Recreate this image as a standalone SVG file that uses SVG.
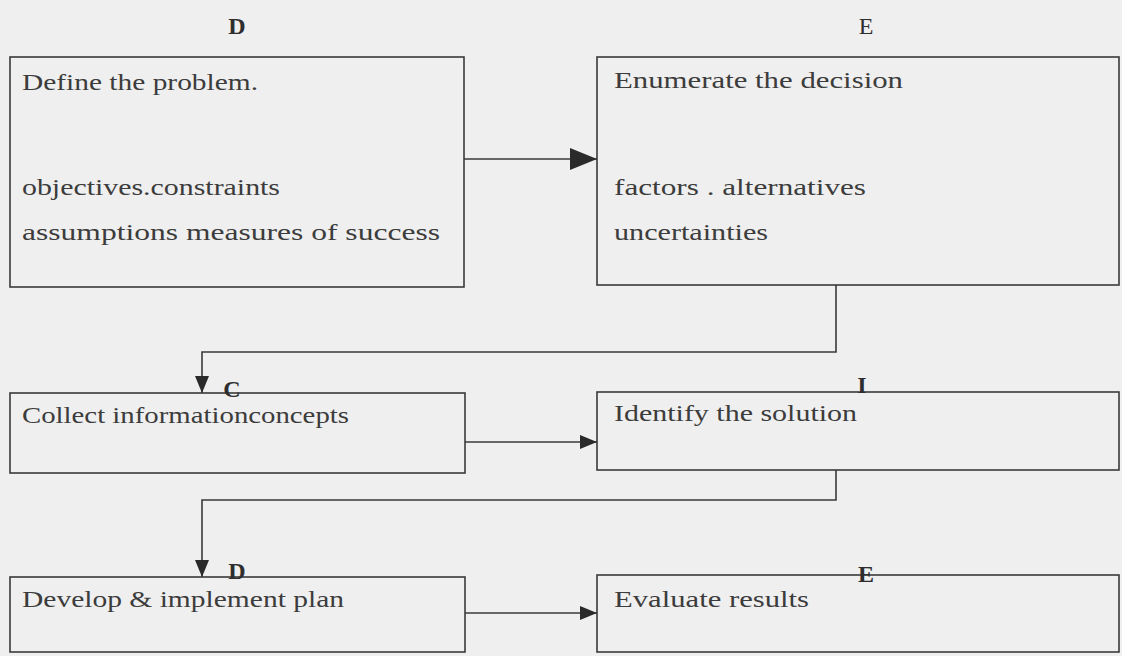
<svg xmlns="http://www.w3.org/2000/svg" width="1122" height="656" viewBox="0 0 1122 656">
<style>
.box{fill:none;stroke:#3a3a3a;stroke-width:1.6}
.t{font-family:"Liberation Serif","Times New Roman",serif;font-size:24px;fill:#3c3c3c}
.lbl{font-family:"Liberation Serif","Times New Roman",serif;font-size:24px;font-weight:bold;fill:#2e2e2e;text-anchor:middle}
.c{fill:none;stroke:#3a3a3a;stroke-width:1.6}
</style>
<defs>
<marker id="big" markerUnits="userSpaceOnUse" markerWidth="28" markerHeight="22" refX="27" refY="11" orient="auto"><path d="M0,0 L27,11 L0,22 z" fill="#2a2a2a"/></marker>
<marker id="sm" markerUnits="userSpaceOnUse" markerWidth="18" markerHeight="14" refX="17" refY="7" orient="auto"><path d="M0,0 L17,7 L0,14 z" fill="#2a2a2a"/></marker>
</defs>
<rect width="1122" height="656" fill="#efefef"/>
<g id="n1">
<text class="lbl" x="237" y="34">D</text>
<rect class="box" x="10" y="57" width="454" height="230"/>
<text class="t" x="22" y="90" textLength="236" lengthAdjust="spacingAndGlyphs">Define the problem.</text>
<text class="t" x="22" y="195" textLength="258" lengthAdjust="spacingAndGlyphs">objectives.constraints</text>
<text class="t" x="22" y="240" textLength="418" lengthAdjust="spacingAndGlyphs">assumptions measures of success</text>
</g>
<g id="n2">
<text class="lbl" x="866" y="34" style="font-weight:normal">E</text>
<rect class="box" x="597" y="57" width="522" height="228"/>
<text class="t" x="614" y="88" textLength="289" lengthAdjust="spacingAndGlyphs">Enumerate the decision</text>
<text class="t" x="614" y="195" textLength="252" lengthAdjust="spacingAndGlyphs">factors . alternatives</text>
<text class="t" x="614" y="240" textLength="154" lengthAdjust="spacingAndGlyphs">uncertainties</text>
</g>
<g id="n3">
<rect class="box" x="10" y="393" width="455" height="80"/>
<text class="lbl" x="232" y="397">C</text>
<text class="t" x="22" y="423" textLength="327" lengthAdjust="spacingAndGlyphs">Collect informationconcepts</text>
</g>
<g id="n4">
<rect class="box" x="597" y="392" width="522" height="78"/>
<text class="lbl" x="862" y="393">I</text>
<text class="t" x="614" y="421" textLength="243" lengthAdjust="spacingAndGlyphs">Identify the solution</text>
</g>
<g id="n5">
<rect class="box" x="10" y="577" width="455" height="75"/>
<text class="lbl" x="237" y="579">D</text>
<text class="t" x="22" y="607" textLength="322" lengthAdjust="spacingAndGlyphs">Develop &amp; implement plan</text>
</g>
<g id="n6">
<rect class="box" x="597" y="575" width="522" height="77"/>
<text class="lbl" x="866" y="582">E</text>
<text class="t" x="614" y="607" textLength="195" lengthAdjust="spacingAndGlyphs">Evaluate results</text>
</g>
<g id="connectors">
<line class="c" x1="464" y1="159" x2="597" y2="159" marker-end="url(#big)"/>
<polyline class="c" points="836,285 836,352 202,352 202,393" marker-end="url(#sm)"/>
<line class="c" x1="465" y1="442" x2="597" y2="442" marker-end="url(#sm)"/>
<polyline class="c" points="836,470 836,500 202,500 202,577" marker-end="url(#sm)"/>
<line class="c" x1="465" y1="613" x2="597" y2="613" marker-end="url(#sm)"/>
</g>
</svg>
